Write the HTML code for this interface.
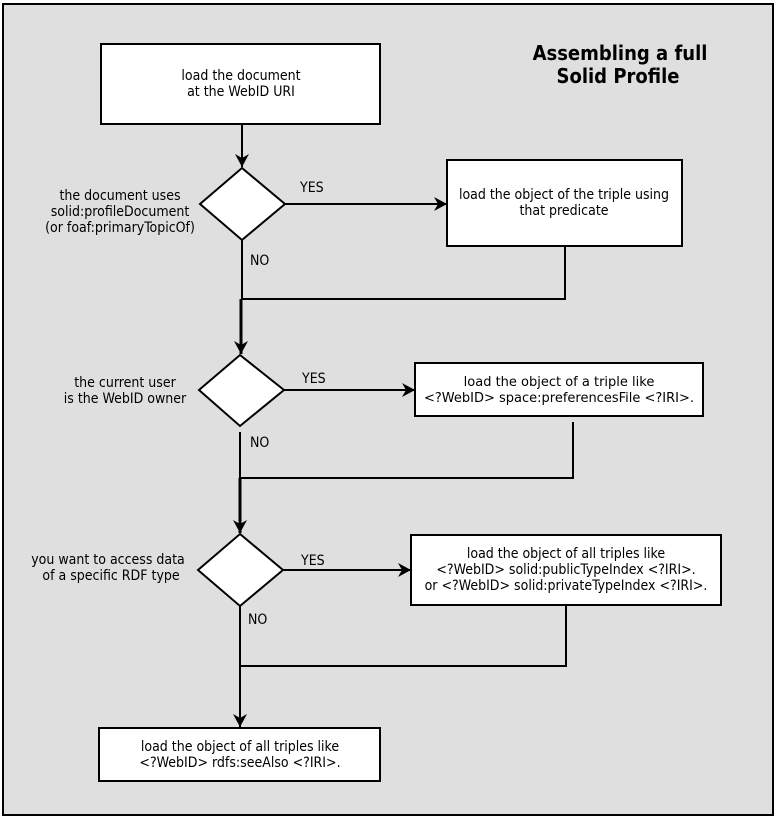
<!DOCTYPE html>
<html><head><meta charset="utf-8"><style>
html,body{margin:0;padding:0;background:#fff;}
svg{display:block;}
text{font-family:"DejaVu Sans Condensed","DejaVu Sans","Liberation Sans",sans-serif;font-size:14px;fill:#000;}
.t{text-anchor:middle;}
</style></head><body>
<svg width="776" height="818" viewBox="0 0 776 818" xmlns="http://www.w3.org/2000/svg">
<defs>
<marker id="a" markerWidth="16" markerHeight="16" refX="13" refY="7" orient="auto" markerUnits="userSpaceOnUse">
<path d="M0,0 L13,7 L0,14 L4,7 Z" fill="#000"/>
</marker>
</defs>
<rect x="3" y="4" width="770" height="811" fill="#dfdfdf" stroke="#000" stroke-width="2"/>
<g stroke="#000" stroke-width="2" fill="none">
<line x1="242" y1="124" x2="242" y2="167" marker-end="url(#a)"/>
<line x1="285" y1="204" x2="447" y2="204" marker-end="url(#a)"/>
<polyline points="565,246 565,299 241,299"/>
<line x1="242" y1="240" x2="242" y2="299"/>
<line x1="241" y1="299" x2="241" y2="354" stroke-width="3" marker-end="url(#a)"/>
<line x1="284" y1="390" x2="415" y2="390" marker-end="url(#a)"/>
<polyline points="573,422 573,478 240,478"/>
<line x1="240" y1="432" x2="240" y2="478"/>
<line x1="240" y1="478" x2="240" y2="533" stroke-width="3" marker-end="url(#a)"/>
<line x1="283" y1="570" x2="411" y2="570" marker-end="url(#a)"/>
<polyline points="566,605 566,666 240,666"/>
<line x1="240" y1="606" x2="240" y2="727" marker-end="url(#a)"/>
</g>
<g stroke="#000" stroke-width="2" fill="#fff">
<rect x="101" y="44" width="279" height="80"/>
<polygon points="242,168 285,204 242,240 200,204"/>
<rect x="447" y="160" width="235" height="86"/>
<polygon points="240,355 284,390 240,426 199,390"/>
<rect x="415" y="363" width="288" height="53"/>
<polygon points="240,534 283,570 240,606 198,570"/>
<rect x="411" y="535" width="310" height="70"/>
<rect x="99" y="728" width="281" height="53"/>
</g>
<text class="t" x="620" y="60" style="font-weight:bold;font-size:20px">Assembling a full</text>
<text class="t" x="618" y="83" style="font-weight:bold;font-size:20px">Solid Profile</text>
<text class="t" x="241" y="80">load the document</text>
<text class="t" x="241" y="96">at the WebID URI</text>
<text class="t" x="120" y="200">the document uses</text>
<text class="t" x="120" y="216">solid:profileDocument</text>
<text class="t" x="120" y="232">(or foaf:primaryTopicOf)</text>
<text x="300" y="192">YES</text>
<text x="250" y="265">NO</text>
<text class="t" x="564" y="199">load the object of the triple using</text>
<text class="t" x="564" y="215">that predicate</text>
<text class="t" x="125" y="387">the current user</text>
<text class="t" x="125" y="403">is the WebID owner</text>
<text x="302" y="383">YES</text>
<text x="250" y="447">NO</text>
<text class="t" x="559" y="386" style="font-family:'DejaVu Sans',sans-serif;font-size:13px">load the object of a triple like</text>
<text class="t" x="559" y="402" style="font-family:'DejaVu Sans',sans-serif;font-size:13px">&lt;?WebID&gt; space:preferencesFile &lt;?IRI&gt;.</text>
<text class="t" x="108" y="564">you want to access data</text>
<text class="t" x="111" y="580">of a specific RDF type</text>
<text x="301" y="565">YES</text>
<text x="248" y="624">NO</text>
<text class="t" x="566" y="558">load the object of all triples like</text>
<text class="t" x="566" y="574">&lt;?WebID&gt; solid:publicTypeIndex &lt;?IRI&gt;.</text>
<text class="t" x="566" y="590">or &lt;?WebID&gt; solid:privateTypeIndex &lt;?IRI&gt;.</text>
<text class="t" x="240" y="751">load the object of all triples like</text>
<text class="t" x="240" y="767">&lt;?WebID&gt; rdfs:seeAlso &lt;?IRI&gt;.</text>
</svg>
</body></html>
